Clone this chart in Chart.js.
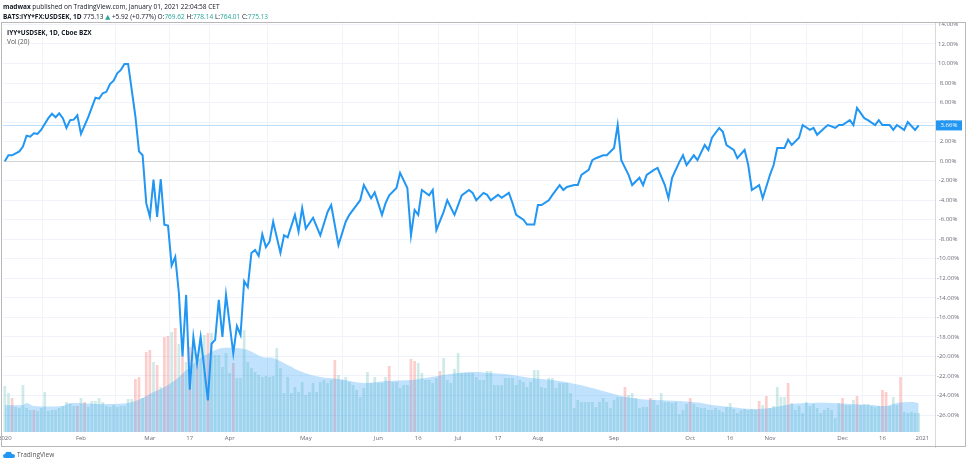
<!DOCTYPE html>
<html>
<head>
<meta charset="utf-8">
<script src="https://cdn.jsdelivr.net/npm/chart.js@4.4.0/dist/chart.umd.min.js"></script>
<style>
  body { margin: 0; width: 976px; height: 462px; overflow: hidden; background: #fff; position: relative;
         font-family: "Open Sans", "DejaVu Sans", sans-serif; color: #131722; }
  #chart { position: absolute; left: 0; top: 0; }
  .hdr { position: absolute; left: 3px; font-size: 6.5px; white-space: nowrap; line-height: 9px; }
  .hdr b { font-weight: 700; }
  .up { color: #26a69a; }
  .pane { position: absolute; left: 1px; top: 22px; width: 965px; height: 425px; border: 1px solid #b8b8b8; box-sizing: border-box; pointer-events: none; }
  .leg { position: absolute; left: 7px; font-size: 6.5px; white-space: nowrap; line-height: 9px; }
  .foot { position: absolute; left: 3px; top: 450px; font-size: 6.5px; color: #555; display: flex; align-items: center; gap: 2px; }
</style>
</head>
<body>
<canvas id="chart" width="976" height="462"></canvas>
<div class="pane"></div>
<div class="hdr" style="top:2px"><b>madwax</b> published on TradingView.com, January 01, 2021 22:04:58 CET</div>
<div class="hdr" style="top:12px"><b>BATS:IYY*FX:USDSEK, 1D</b> 775.13 <span class="up">&#9650;</span> +5.92 (+0.77%) O:<span class="up">769.62</span> H:<span class="up">778.14</span> L:<span class="up">764.01</span> C:<span class="up">775.13</span></div>
<div class="leg" style="top:28px;font-weight:700">IYY*USDSEK, 1D, Cboe BZX</div>
<div class="leg" style="top:37px;color:#555">Vol (20)</div>
<div class="foot">
  <svg width="12" height="8" viewBox="0 0 12 8"><path d="M2 7 Q0 7 0 5 Q0 3 2 3 Q3 0 6 1 Q8 0 9 3 Q12 3 12 5 Q12 7 10 7 Z" fill="#2196f3"/></svg>
  <span>TradingView</span>
</div>
<script>
// trading-day index of each time-axis label (0 = Jan 2 2020)
const tickIdx = [0, 21, 40, 51, 62, 83, 103, 114, 125, 136, 147, 168, 189, 200, 211, 231, 242, 253];
const tickLabels = ['2020', 'Feb', 'Mar', '17', 'Apr', 'May', 'Jun', '16', 'Jul', '17', 'Aug', 'Sep', 'Oct', '16', 'Nov', 'Dec', '16', '2021'];
const yTicks = [-26, -24, -22, -20, -18, -16, -14, -12, -10, -8, -6, -4, -2, 0, 2, 4, 6, 8, 10, 12, 14];

// IYY*USDSEK, % change since first bar (vertices of the line)
const priceIdx = [0, 1, 2, 4, 5, 6, 7, 8, 9, 10, 12, 13, 14, 15, 16, 17, 18, 19, 20, 21, 23, 25, 26, 27, 28, 29, 30, 31, 32, 33, 34, 35, 36, 37, 38, 39, 40, 41, 42, 43, 44, 45, 46, 47, 48, 49, 50, 51, 52, 53, 54, 56, 57, 58, 59, 60, 61, 63, 64, 65, 66, 67, 68, 69, 70, 71, 72, 73, 74, 76, 77, 78, 80, 81, 82, 83, 85, 87, 89, 90, 92, 94, 95, 97, 98, 99, 101, 102, 104, 105, 106, 108, 109, 111, 112, 113, 114, 115, 117, 118, 119, 121, 122, 124, 125, 126, 128, 129, 130, 132, 133, 134, 136, 137, 139, 140, 141, 143, 144, 146, 147, 148, 150, 151, 153, 154, 155, 157, 158, 159, 161, 162, 163, 165, 166, 168, 169, 170, 172, 173, 175, 176, 177, 179, 180, 182, 183, 184, 186, 187, 188, 190, 191, 193, 194, 195, 197, 198, 199, 201, 202, 204, 205, 206, 208, 209, 211, 212, 213, 215, 216, 217, 219, 220, 222, 223, 224, 226, 227, 229, 230, 231, 233, 234, 235, 237, 238, 240, 241, 242, 244, 245, 246, 248, 249, 251, 252];
const priceVal = [0.0, 0.6, 0.6, 1.0, 1.5, 2.6, 2.5, 2.85, 2.8, 3.2, 4.4, 4.85, 4.5, 4.9, 4.4, 3.4, 4.2, 4.25, 4.7, 2.8, 4.5, 6.5, 6.4, 6.95, 7.1, 7.9, 8.25, 9.0, 9.35, 9.96, 9.96, 7.3, 4.6, 1.0, 0.6, -4.3, -5.7, -1.9, -5.7, -1.85, -6.5, -6.6, -10.7, -9.8, -13.5, -20.0, -13.7, -23.4, -18.0, -20.7, -18.0, -24.5, -18.7, -18.3, -14.2, -18.0, -13.7, -19.7, -16.9, -17.8, -12.3, -12.9, -9.4, -9.1, -9.7, -7.5, -8.8, -8.25, -6.2, -9.4, -7.6, -7.8, -5.5, -7.2, -4.8, -6.9, -5.8, -7.6, -5.2, -4.5, -8.6, -6.2, -5.5, -4.5, -4.0, -2.45, -3.8, -3.2, -5.5, -4.3, -3.5, -2.75, -1.2, -2.75, -7.6, -5.0, -5.5, -2.95, -3.5, -2.95, -7.05, -5.2, -4.0, -5.5, -4.5, -3.5, -2.95, -3.25, -4.0, -3.25, -3.45, -4.0, -3.45, -3.75, -3.25, -4.3, -5.5, -6.0, -6.5, -6.5, -4.5, -4.5, -4.0, -3.45, -2.45, -2.95, -2.65, -2.45, -2.45, -1.4, -0.9, 0.1, 0.3, 0.6, 0.6, 1.35, 3.7, 0.1, -1.4, -2.45, -1.7, -2.45, -1.4, -0.9, -0.7, -2.45, -3.8, -1.7, -0.1, 0.6, -0.4, 0.6, 0.1, 1.65, 1.15, 2.4, 3.4, 3.0, 1.65, 1.15, 0.3, 1.15, -0.4, -2.95, -2.45, -3.8, -1.4, -0.4, 1.35, 1.35, 2.2, 1.65, 2.4, 3.7, 3.2, 3.4, 2.7, 3.4, 3.7, 3.4, 3.7, 3.7, 4.2, 3.7, 5.45, 4.4, 4.2, 3.7, 4.2, 3.7, 3.7, 3.2, 3.7, 3.2, 4.0, 3.2, 3.66];
const lastValue = 3.66;

// daily volume (thousands), one per trading day
const volume = [
  46, 39, 34, 25, 24, 47, 24, 22, 22, 21,
  24, 40, 21, 22, 22, 24, 26, 30, 28, 26,
  26, 34, 30, 25, 31, 31, 34, 30, 26, 25,
  27, 25, 26, 26, 33, 33, 53, 55, 34, 80,
  82, 70, 67, 45, 95, 96, 100, 104, 88, 76,
  70, 85, 80, 78, 95, 97, 99, 99, 77, 77,
  65, 79, 59, 69, 54, 54, 102, 70, 64, 60,
  57, 55, 56, 55, 56, 84, 64, 39, 55, 39,
  45, 40, 50, 37, 40, 49, 40, 50, 52, 49,
  52, 72, 57, 52, 55, 50, 47, 42, 35, 44,
  60, 49, 55, 49, 49, 55, 66, 50, 50, 44,
  47, 47, 73, 71, 69, 59, 52, 52, 49, 54,
  61, 74, 52, 49, 63, 79, 59, 59, 59, 59,
  55, 52, 52, 61, 61, 47, 47, 47, 54, 54,
  54, 47, 52, 50, 45, 50, 62, 62, 45, 44,
  54, 54, 44, 49, 49, 49, 39, 24, 32, 30,
  30, 30, 30, 25, 30, 34, 30, 24, 32, 35,
  35, 45, 37, 39, 34, 24, 25, 25, 34, 32,
  27, 39, 30, 30, 29, 30, 18, 22, 28, 34,
  28, 25, 24, 24, 22, 22, 24, 22, 20, 25,
  29, 23, 19, 22, 23, 22, 23, 22, 31, 27,
  36, 24, 26, 45, 35, 35, 49, 29, 22, 26,
  19, 30, 26, 28, 24, 19, 22, 24, 22, 14,
  29, 34, 27, 27, 32, 36, 27, 28, 28, 26,
  25, 26, 42, 40, 26, 35, 27, 55, 20, 19,
  20, 19, 19
];
// trading days that closed down (red volume bars)
const downDays = [2, 8, 20, 22, 36, 37, 39, 40, 42, 44, 45, 47, 49, 51, 53, 56, 63, 91, 106, 112, 113, 120, 171, 178, 189, 208, 210, 216, 231, 235, 242, 243, 247];

// 20-day volume moving average (vertices)
const maIdx = [0, 5, 6, 8, 16, 18, 27, 34, 38, 41, 43, 45, 48, 51, 54, 58, 60, 64, 67, 71, 74, 78, 82, 87, 92, 99, 105, 112, 116, 121, 128, 134, 140, 145, 151, 156, 162, 167, 170, 175, 180, 186, 192, 195, 200, 206, 211, 217, 222, 228, 233, 239, 243, 246, 250, 252];
const maVal = [27, 27, 29, 26, 26, 29, 28, 29, 34, 40, 43, 47, 55, 65, 74, 82, 84, 84, 82, 75, 74, 67, 60, 55, 53, 49, 51, 52, 54, 57, 60, 59, 57, 54, 52, 49, 44, 39, 36, 33, 32, 31, 29, 27, 25, 23, 24, 28, 29, 29, 28, 27, 26, 29, 30, 29];

const LINE_BLUE = '#2196f3';
const GRID = '#f0f3fa';
const TEXT = '#6a6d78';

const priceData = priceIdx.map((x, i) => ({ x: x, y: priceVal[i] }));
const volData = volume.map((v, i) => ({ x: i, y: v }));
const maData = maIdx.map((x, i) => ({ x: x, y: maVal[i] }));

const paneExtras = {
    id: 'paneExtras',
    afterDatasetsDraw(chart) {
        const { ctx, chartArea, scales } = chart;
        const y = scales.y.getPixelForValue(lastValue);
        ctx.save();
        // last price line
        ctx.strokeStyle = 'rgba(33,150,243,0.3)';
        ctx.lineWidth = 1;
        ctx.beginPath();
        ctx.moveTo(chartArea.left, Math.round(y) + 0.5);
        ctx.lineTo(chartArea.right, Math.round(y) + 0.5);
        ctx.stroke();
        // price scale separator
        ctx.strokeStyle = '#d9d9d9';
        ctx.beginPath();
        ctx.moveTo(chartArea.right + 0.5, chartArea.top);
        ctx.lineTo(chartArea.right + 0.5, chartArea.bottom + 16);
        ctx.stroke();
        // last value label
        ctx.fillStyle = LINE_BLUE;
        ctx.fillRect(chartArea.right + 1, y - 5, 26, 10);
        ctx.fillStyle = '#fff';
        ctx.font = '6px "Open Sans"';
        ctx.textAlign = 'center';
        ctx.textBaseline = 'middle';
        ctx.fillText(lastValue.toFixed(2) + '%', chartArea.right + 14, y);
        ctx.restore();
    }
};

new Chart(document.getElementById('chart'), {
    type: 'bar',
    data: {
        datasets: [
            {
                type: 'line',
                data: priceData,
                yAxisID: 'y',
                borderColor: LINE_BLUE,
                borderWidth: 2,
                pointRadius: 0,
                tension: 0,
                order: 0,
            },
            {
                type: 'line',
                data: maData,
                yAxisID: 'yv',
                borderColor: 'rgba(100,181,246,0.0)',
                backgroundColor: 'rgba(33,150,243,0.28)',
                fill: 'origin',
                pointRadius: 0,
                tension: 0.35,
                order: 1,
            },
            {
                type: 'bar',
                data: volData,
                yAxisID: 'yv',
                backgroundColor: volume.map((v, i) => downDays.includes(i) ? 'rgba(239,83,80,0.28)' : 'rgba(38,166,154,0.22)'),
                barPercentage: 0.75,
                categoryPercentage: 1,
                order: 2,
            },
        ],
    },
    options: {
        responsive: false,
        animation: false,
        devicePixelRatio: 1,
        layout: { padding: { left: 3, top: 23, right: 10, bottom: 14 } },
        plugins: { legend: { display: false }, tooltip: { enabled: false } },
        scales: {
            x: {
                type: 'linear',
                offset: false,
                min: -0.5,
                max: 256.5,
                afterBuildTicks: (axis) => { axis.ticks = tickIdx.map(v => ({ value: v })); },
                afterFit: (axis) => { axis.height = 16; axis.paddingLeft = 0; axis.paddingRight = 0; },
                ticks: {
                    autoSkip: false,
                    maxRotation: 0,
                    padding: 3,
                    color: TEXT,
                    font: { size: 6, family: 'Open Sans' },
                    callback: (v) => tickLabels[tickIdx.indexOf(v)],
                },
                grid: { color: GRID, drawTicks: false },
                border: { display: false },
            },
            y: {
                position: 'right',
                min: -27.74,
                max: 14.15,
                afterBuildTicks: (axis) => { axis.ticks = yTicks.map(v => ({ value: v })); },
                afterFit: (axis) => { axis.width = 31; axis.paddingTop = 0; axis.paddingBottom = 0; },
                ticks: {
                    color: TEXT,
                    padding: 2,
                    crossAlign: 'center',
                    font: { size: 6, family: 'Open Sans' },
                    callback: (v) => v.toFixed(2) + '%',
                },
                grid: {
                    drawTicks: false,
                    color: (c) => c.tick && c.tick.value === 0 ? '#d4d4d4' : GRID,
                },
                border: { display: false },
            },
            yv: {
                display: false,
                min: 0,
                max: 409,
            },
        },
    },
    plugins: [paneExtras],
});
</script>
</body>
</html>
